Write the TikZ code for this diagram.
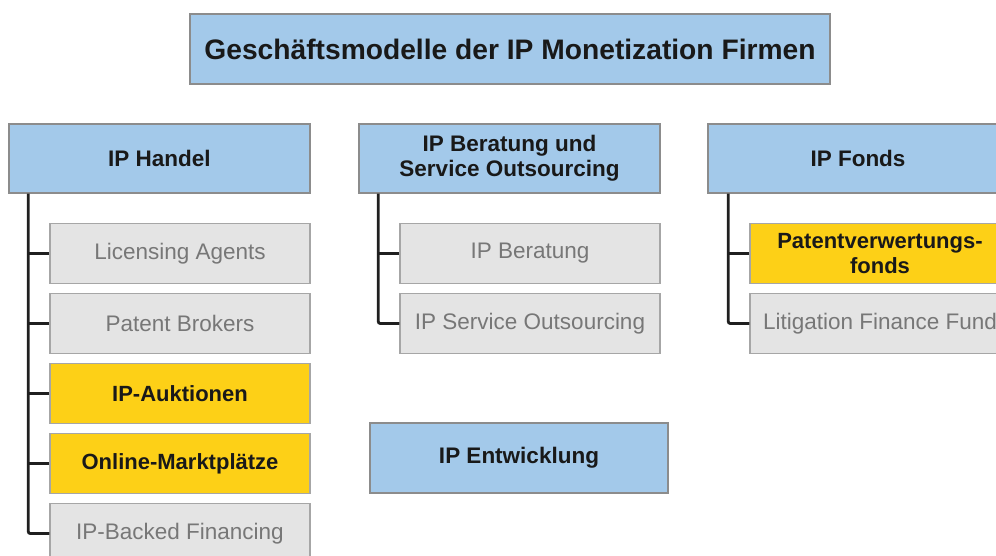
\documentclass[tikz,border=0pt]{standalone}
\usepackage{fontspec}
\setmainfont{Liberation Sans}
\definecolor{hblue}{HTML}{A3C9EA}
\definecolor{hyel}{HTML}{FDD017}
\definecolor{cgray}{HTML}{E4E4E4}
\definecolor{tgray}{HTML}{777777}
\definecolor{bgray}{HTML}{8C8C8C}
\definecolor{lgray}{HTML}{A6A6A6}
\tikzset{
  head/.style={draw=bgray, line width=1.5pt, fill=hblue, align=center, inner sep=0pt,
    font=\fontsize{22.5}{25}\selectfont\bfseries, text=black!90},
  gbox/.style={draw=lgray, line width=1.5pt, fill=cgray, minimum width=260pt, minimum height=60pt,
    inner sep=0pt, align=center, font=\fontsize{22.5}{25}\selectfont, text=tgray},
  ybox/.style={draw=lgray, line width=1.5pt, fill=hyel, minimum width=260pt, minimum height=60pt,
    inner sep=0pt, align=center, font=\fontsize{22}{25}\selectfont\bfseries, text=black!90},
  conn/.style={line width=2.8pt, draw=black!88, rounded corners=2pt},
  branch/.style={line width=2.8pt, draw=black!88}
}
\begin{document}
\begin{tikzpicture}[x=1pt,y=-1pt]
\useasboundingbox (0,0) rectangle (996,556);
\clip (0,0) rectangle (996,556);
\fill[white] (0,0) rectangle (996,556);
% title
\node[head, minimum width=640pt, minimum height=70pt, font=\fontsize{28.2}{31}\selectfont\bfseries] (T) at (510,49) {Geschäftsmodelle der IP Monetization Firmen};
% headers
\node[head, minimum width=301pt, minimum height=69pt] (H1) at (159.5,158.5) {IP Handel};
\node[head, minimum width=301pt, minimum height=69pt] (H2) at (509.5,158.5) {IP Beratung und\\Service Outsourcing};
\node[head, minimum width=300pt, minimum height=69pt] (H3) at (858,158.5) {IP Fonds};
\node[head, minimum width=298pt, minimum height=70pt] (H4) at (519,458) {IP Entwicklung};
% left column
\node[gbox] (L1) at (180,253.5) {Licensing Agents};
\node[gbox] (L2) at (180,323.5) {Patent Brokers};
\node[ybox] (L3) at (180,393.5) {IP-Auktionen};
\node[ybox] (L4) at (180,463.5) {Online-Marktplätze};
\node[gbox] (L5) at (180,533.5) {IP-Backed Financing};
% middle column
\node[gbox] (M1) at (530,253.5) {IP Beratung};
\node[gbox] (M2) at (530,323.5) {IP Service Outsourcing};
% right column
\node[ybox] (R1) at (880,253.5) {Patentverwertungs-\\fonds};
\node[gbox] (R2) at (880,323.5) {Litigation Finance Fund};
% connectors
\coordinate (t1) at ([xshift=20pt]H1.south west);
\coordinate (t2) at ([xshift=20pt]H2.south west);
\coordinate (t3) at ([xshift=21pt]H3.south west);
\draw[conn] (t1) |- (L5.west);
\foreach \n in {L1,L2,L3,L4} \draw[branch] (\n.west) -- (\n.west -| t1);
\draw[conn] (t2) |- (M2.west);
\draw[branch] (M1.west) -- (M1.west -| t2);
\draw[conn] (t3) |- (R2.west);
\draw[branch] (R1.west) -- (R1.west -| t3);
\end{tikzpicture}
\end{document}
